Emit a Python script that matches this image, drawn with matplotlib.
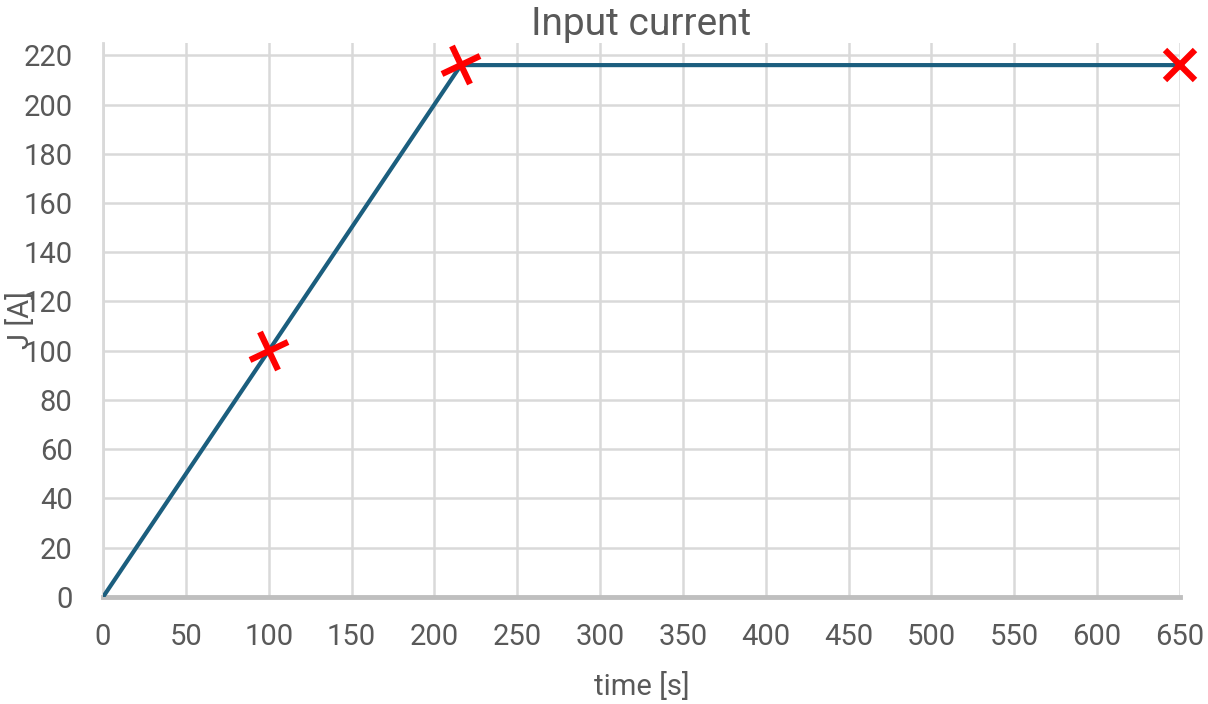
import numpy as np
import matplotlib.pyplot as plt
from matplotlib.markers import MarkerStyle
from matplotlib.transforms import Affine2D

plt.rcParams['font.family'] = ['Roboto', 'DejaVu Sans']

# current profile: linear ramp, then constant
time_s = [0, 216, 650]
current_a = [0, 216, 216]

# highlighted points
mark_time = [100, 216, 650]
mark_current = [100, 216, 216]
mark_angle = [25, 25, 0]

xticks = list(range(0, 651, 50))
yticks = list(range(0, 221, 20))

text_color = '#595959'
grid_color = '#d9d9d9'

fig = plt.figure(figsize=(12.08, 7.04), dpi=100)
ax = fig.add_axes([0.0853, 0.152, 0.8915, 0.787])

ax.plot(time_s, current_a, color='#1b5e7e', linewidth=3, solid_capstyle='butt', zorder=3)

for t, c, ang in zip(mark_time, mark_current, mark_angle):
    if ang:
        m = MarkerStyle('+', transform=Affine2D().rotate_deg(ang))
        size = 30
    else:
        m = MarkerStyle('x')
        size = 22
    ax.plot(t, c, marker=m, markersize=size, markeredgewidth=4.5,
            color='#ff0000', linestyle='none', zorder=4, clip_on=False)

ax.set_xlim(0, 650)
ax.set_ylim(0, 225)
ax.set_xticks(xticks)
ax.set_yticks(yticks)
ax.grid(True, color=grid_color, linewidth=1.8)
ax.set_axisbelow(True)

for side in ['top', 'right']:
    ax.spines[side].set_visible(False)
ax.spines['left'].set_color(grid_color)
ax.spines['left'].set_linewidth(2)
ax.spines['bottom'].set_color('#bfbfbf')
ax.spines['bottom'].set_linewidth(3.5)
ax.spines['bottom'].set_zorder(2.5)

ax.tick_params(axis='both', length=0, labelsize=21, colors=text_color)
ax.tick_params(axis='x', pad=19)
ax.tick_params(axis='y', pad=22)

ax.set_title('Input current', fontsize=28, color=text_color, pad=-4)
ax.set_xlabel('time [s]', fontsize=21, color=text_color, labelpad=15)
ax.set_ylabel('J [A]', fontsize=21, color=text_color)
ax.yaxis.set_label_coords(-0.063, 0.5)

fig.savefig('out.png', dpi=100)
